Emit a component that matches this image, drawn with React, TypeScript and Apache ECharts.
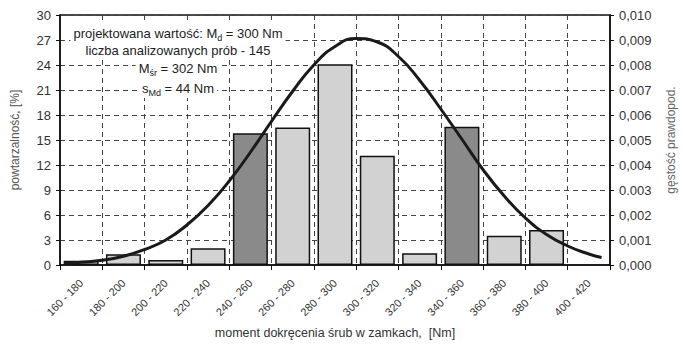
import React, { useEffect, useRef } from "react";
import * as echarts from "echarts";

const categories = [
  "160 - 180", "180 - 200", "200 - 220", "220 - 240", "240 - 260", "260 - 280",
  "280 - 300", "300 - 320", "320 - 340", "340 - 360", "360 - 380", "380 - 400", "400 - 420",
];
const frequencyPct: (number | null)[] = [0.5, 1.3, 0.6, 2.0, 15.8, 16.5, 24.1, 13.1, 1.4, 16.6, 3.5, 4.2, null];
const darkCategories = ["240 - 260", "340 - 360"];

const densityX = [162, 170, 180, 190, 200, 210, 220, 230, 240, 250, 260, 270, 280, 290, 300, 310, 320, 330, 340, 350, 360, 370, 380, 390, 400, 410, 416];
const densityY = [0.00006, 0.00011, 0.00019, 0.00035, 0.00062, 0.001, 0.0016, 0.00238, 0.00336, 0.00451, 0.00575, 0.00695, 0.008, 0.00874, 0.00906, 0.00892, 0.00834, 0.00739, 0.00624, 0.00503, 0.00381, 0.00276, 0.00188, 0.00122, 0.00076, 0.00044, 0.0003];

const rightTickLabels = ["0,000", "0,001", "0,002", "0.003", "0,004", "0,005", "0,006", "0.007", "0,008", "0,009", "0,010"];

const infoLines = [
  "projektowana wartość: M{s|d} = 300 Nm",
  "liczba analizowanych prób - 145",
  "M{s|śr} = 302 Nm",
  "s{s|Md} = 44 Nm",
];

const FONT = "'Liberation Sans', Arial, Helvetica, sans-serif";

export default function App() {
  const ref = useRef<HTMLDivElement>(null);
  useEffect(() => {
    if (!ref.current) return;
    const chart = echarts.init(ref.current, undefined, { renderer: "svg" });
    const lineY = [33, 50, 68, 88];
    const option: any = {
      animation: false,
      backgroundColor: "#ffffff",
      textStyle: { fontFamily: FONT },
      grid: {
        left: 60, right: 62, top: 15, bottom: 83,
        show: true, borderColor: "#111", borderWidth: 1.5, backgroundColor: "transparent",
      },
      xAxis: [
        {
          type: "category",
          data: categories,
          boundaryGap: true,
          axisLine: { lineStyle: { color: "#111", width: 1.5 } },
          axisTick: { show: true, length: 5, lineStyle: { color: "#111" } },
          axisLabel: { rotate: 45, fontSize: 11, color: "#333", margin: 16, interval: 0, fontFamily: FONT },
          splitLine: { show: true, interval: 0, lineStyle: { color: "#444", type: [5, 4], width: 1 } },
          name: "moment dokręcenia śrub w zamkach,  [Nm]",
          nameLocation: "middle",
          nameGap: 61,
          nameMoveOverlap: false,
          nameTextStyle: { fontSize: 12.5, color: "#333", fontFamily: FONT },
        },
        { type: "value", min: 160, max: 420, show: false },
      ],
      yAxis: [
        {
          type: "value", min: 0, max: 30, interval: 3,
          axisLine: { show: true, lineStyle: { color: "#111", width: 1.5 } },
          axisTick: { show: true, length: 4, lineStyle: { color: "#111" } },
          axisLabel: { fontSize: 13, color: "#333", margin: 9, fontFamily: FONT },
          splitLine: { show: true, lineStyle: { color: "#444", type: [5, 4], width: 1 } },
          name: "powtarzalność, [%]",
          nameLocation: "middle",
          nameGap: 39,
          nameMoveOverlap: false,
          nameTextStyle: { fontSize: 12, color: "#555", fontFamily: FONT },
        },
        {
          type: "value", min: 0, max: 0.01, interval: 0.001, position: "right",
          axisLine: { show: true, lineStyle: { color: "#111", width: 1.5 } },
          axisTick: { show: true, length: 4, lineStyle: { color: "#111" } },
          axisLabel: {
            fontSize: 13, color: "#333", margin: 9, fontFamily: FONT,
            formatter: (v: number) => rightTickLabels[Math.round(v * 1000)] ?? "",
          },
          splitLine: { show: false },
          name: "gęstość prawdopod.",
          nameLocation: "middle",
          nameGap: 55,
          nameMoveOverlap: false,
          nameTextStyle: { fontSize: 12, color: "#666", fontFamily: FONT },
        },
      ],
      series: [
        {
          type: "bar",
          xAxisIndex: 0,
          yAxisIndex: 0,
          barWidth: 35,
          data: frequencyPct.map((v, i) => ({
            value: v,
            itemStyle: {
              color: darkCategories.includes(categories[i]) ? "#8a8a8a" : "#d2d2d2",
              borderColor: "#111",
              borderWidth: 1.5,
            },
          })),
          z: 2,
        },
        {
          type: "line",
          xAxisIndex: 1,
          yAxisIndex: 1,
          smooth: true,
          showSymbol: false,
          lineStyle: { color: "#1a1a1a", width: 3 },
          data: densityX.map((x, i) => [x, densityY[i]]),
          z: 5,
        },
      ],
      graphic: infoLines.map((t, i) => ({
        type: "text",
        x: 178,
        y: lineY[i],
        z: 10,
        style: {
          text: t,
          fontSize: 13,
          fontFamily: FONT,
          fill: "#222",
          align: "center",
          verticalAlign: "middle",
          backgroundColor: "#ffffff",
          padding: [2, 3, 1, 3],
          rich: { s: { fontSize: 9, fontFamily: FONT, fill: "#222", padding: [8, 0, 0, 0] } },
        },
      })),
    };
    chart.setOption(option);
    return () => chart.dispose();
  }, []);
  return (
    <div
      ref={ref}
      style={{ position: "fixed", left: 0, top: 0, width: 685, height: 348, background: "#fff" }}
    />
  );
}
